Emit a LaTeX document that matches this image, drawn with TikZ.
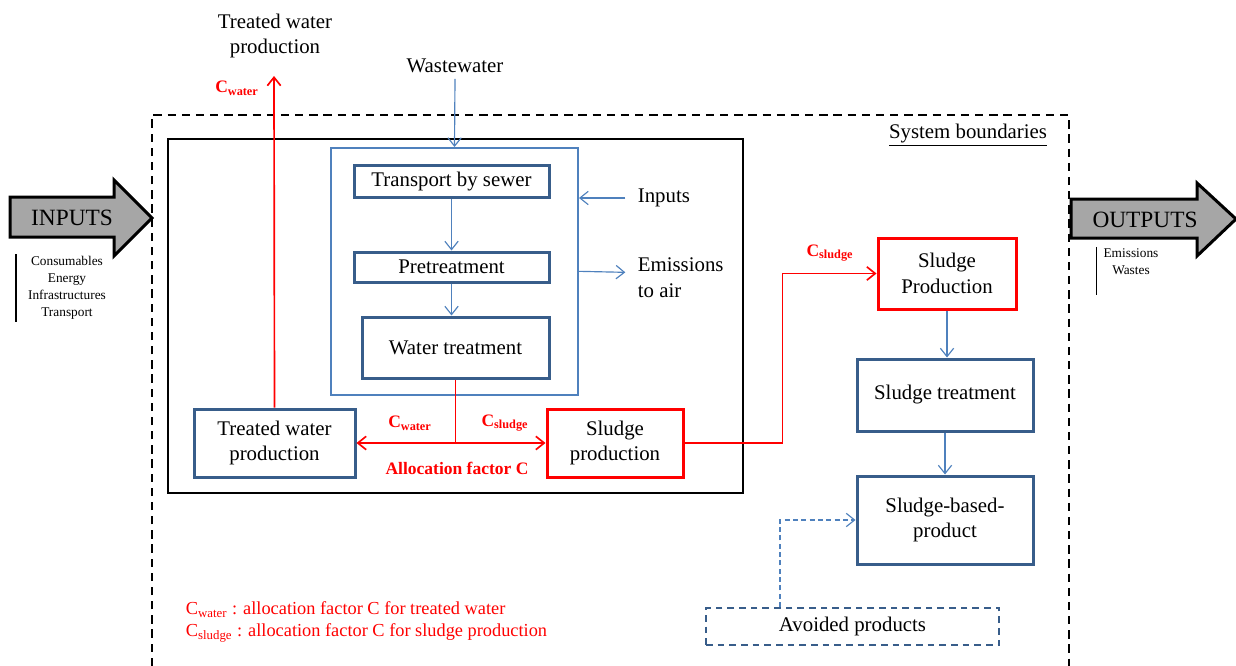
\documentclass[tikz,border=0pt]{standalone}
\usepackage{fontspec}
\setmainfont{Liberation Serif}
\usepackage{xcolor}
\usetikzlibrary{arrows.meta}
\definecolor{boxblue}{HTML}{385D8A}
\definecolor{lineblue}{HTML}{4F81BD}
\definecolor{arrowgray}{HTML}{A6A6A6}
\newcommand{\Cw}{C\textsubscript{water}}
\newcommand{\Cs}{C\textsubscript{sludge}}

\begin{document}
\begin{tikzpicture}[x=0.6pt, y=-0.6pt, >={Straight Barb[length=5pt,width=8pt]}, font=\fontsize{12.5}{15.5}\selectfont]
  \tikzset{
    proc/.style={draw=boxblue, line width=1.8pt, minimum width=105.6pt, align=center, inner sep=2pt},
    alloc/.style={draw=red, line width=1.8pt, align=center, inner sep=2pt},
    flow/.style={draw=lineblue, line width=0.7pt, ->},
    redflow/.style={draw=red, line width=1pt},
    clab/.style={text=red, font=\fontsize{10.5}{12}\selectfont\bfseries},
    bigarrow/.style={draw=black, line width=1.8pt, fill=arrowgray},
    smalltxt/.style={font=\fontsize{8}{10.2}\selectfont, align=center, inner sep=1pt}
  }
  \useasboundingbox (0,0) rectangle (1236,666);
  % system boundaries
  \draw[line width=1.7pt, dash pattern=on 5pt off 3.5pt] (152,666) -- (152,115) -- (1069,115) -- (1069,666);
  \node[font=\fontsize{12.5}{15}\selectfont] (sysb) at (968,135) {\underline{System boundaries}};
  % wastewater treatment plant
  \node[draw, line width=1.5pt, minimum width=345pt, minimum height=212.4pt] (wwtp) at (455.5,316) {};
  \node[draw=lineblue, line width=1.2pt, minimum width=148.2pt, minimum height=148.2pt] (plant) at (454.5,271.5) {};
  \node[proc, minimum width=117pt, minimum height=19.2pt] (sewer) at (451.5,182) {Transport by sewer};
  \node[proc, minimum width=117pt, minimum height=18pt] (pretreat) at (451.5,267) {Pretreatment};
  \node[proc, minimum width=112.2pt, minimum height=36.6pt] (wtreat) at (455.5,347.5) {Water treatment};
  \node[proc, minimum width=96.6pt, minimum height=40.8pt] (twprod) at (274.5,443) {Treated water\\production};
  \node[alloc, minimum width=81.6pt, minimum height=40.8pt] (slprod) at (615,443) {Sludge\\production};
  \draw[flow] (sewer) -- (pretreat);
  \draw[flow] (pretreat.south) -- (pretreat.south |- wtreat.north);
  % plant inputs and outputs
  \node (wwin) at (455,66) {Wastewater};
  \node[anchor=west] (inp) at (632,198) {Inputs};
  \node[anchor=west, align=left] (emis) at (632,278) {Emissions\\to air};
  \draw[flow] (wwin.south) -- (plant.north);
  \draw[flow] ([xshift=-4pt]inp.west) -- (inp.west -| plant.east);
  \draw[flow] ([yshift=4pt]emis.west -| plant.east) -- ([xshift=-4pt,yshift=3.4pt]emis.west);
  % allocation
  \draw[redflow] (wtreat.south) -- (wtreat.south |- twprod.east);
  \draw[redflow, <->] (twprod.east) -- (slprod.west);
  \node[clab] (cw1) at (410,423) {\Cw};
  \node[clab] (cs1) at (505,423) {\Cs};
  \node[clab] (afc) at (457,468) {Allocation factor C};
  \node[align=center] (twout) at (275,36) {Treated water\\production};
  \coordinate (twtop) at (274,76);
  \draw[redflow, ->] (twprod.north) -- (twtop);
  \node[clab] (cw2) at (237,88) {\Cw};
  % sludge line
  \node[alloc, minimum width=82.8pt, minimum height=42.6pt] (slProd) at (947,273.5) {Sludge\\Production};
  \node[proc, minimum height=43.2pt] (sltreat) at (945,395) {Sludge treatment};
  \node[proc, minimum height=52.8pt] (slbased) at (945,520) {Sludge-based-\\product};
  \node[proc, line width=1.3pt, dash pattern=on 4pt off 3pt, minimum width=175.8pt, minimum height=22.2pt] (avoided) at (852.5,626.5) {Avoided products};
  \draw[redflow, ->] (slprod.east) -- ++(98,0) |- (slProd.west);
  \node[clab] (cs2) at (830,253) {\Cs};
  \draw[flow] (slProd.south) -- (slProd.south |- sltreat.north);
  \draw[flow] (sltreat) -- (slbased);
  \draw[flow, dash pattern=on 3pt off 2pt] (avoided.north west) ++(75,0) |- (slbased.west);
  % legend
  \node[anchor=west, text=red, font=\fontsize{11}{13.2}\selectfont, align=left] (legend) at (180,622) {\Cw\ : allocation factor C for treated water\\\Cs\ : allocation factor C for sludge production};
  % inputs / outputs arrows
  \draw[bigarrow] (10,197) -- (114,197) -- (114,180) -- (152,218) -- (114,256) -- (114,237) -- (10,237) -- cycle;
  \node[font=\fontsize{14}{17}\selectfont] (inputs) at (72,218) {INPUTS};
  \node[smalltxt] (inlist) at (67,288) {Consumables\\Energy\\Infrastructures\\Transport};
  \draw[line width=1pt] ([xshift=-6pt]inlist.north west) -- ([xshift=-6pt]inlist.south west);
  \draw[bigarrow] (1071,199) -- (1197,199) -- (1197,183) -- (1236,219) -- (1197,256) -- (1197,238) -- (1071,238) -- cycle;
  \node[font=\fontsize{14}{17}\selectfont] (outputs) at (1145,220) {OUTPUTS};
  \node[smalltxt] (outlist) at (1131,262) {Emissions\\Wastes};
  \draw[line width=1pt] ([xshift=-3pt]outlist.north west) -- ++(0,48);
\end{tikzpicture}
\end{document}
